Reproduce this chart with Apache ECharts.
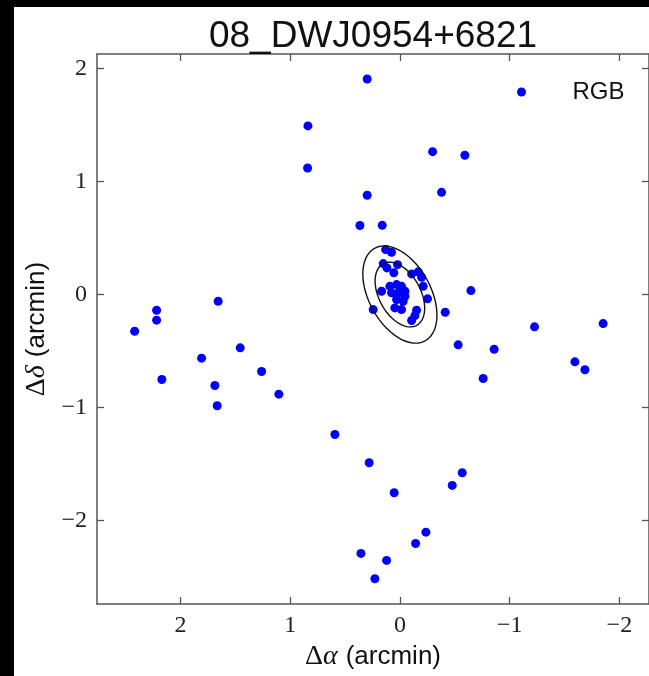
<!DOCTYPE html>
<html>
<head>
<meta charset="utf-8">
<script src="https://cdn.jsdelivr.net/npm/echarts@6/dist/echarts.min.js"></script>
<style>
html,body{margin:0;padding:0;background:#fff;}
#chart{width:649px;height:676px;}
</style>
</head>
<body>
<div id="chart"></div>
<script>
// ---- data (arcmin) ----
const titleText = '08_DWJ0954+6821';
const seriesName = 'RGB';
const rgbX = [0.298, 0.838, -0.298, -0.592, 0.841, -0.380, 0.298, 0.364, 0.161,
  1.656, 2.217, 2.217, 2.417, 1.455, 1.807, 1.260, 2.169, 1.686, 1.103, 1.665,
  0.592, 0.280, 0.052, -0.568, -0.477, -0.237, -0.143, 0.355, 0.121, 0.228,
  -0.647, -0.413, -1.227, -1.852, -0.531, -0.859, -1.595, -1.686, -0.759,
  0.130, 0.076, 0.152, 0.118, 0.021, 0.055, -0.107, -0.167, -0.198, -0.212, -0.252,
  0.167, 0.091, 0.030, -0.015, 0.076, 0.015, -0.046, 0.030, -0.030, -0.046,
  0.046, -0.015, -0.152, -0.137, -0.107, 0.243];
const rgbY = [1.909, 1.493, 1.265, 1.233, 1.121, 0.905, 0.879, 0.611, 0.613,
  -0.059, -0.139, -0.227, -0.325, -0.472, -0.563, -0.681, -0.752, -0.805, -0.882, -0.985,
  -1.239, -1.489, -1.755, -1.578, -1.690, -2.104, -2.204, -2.292, -2.354, -2.516,
  0.035, -0.157, -0.286, -0.257, -0.445, -0.484, -0.596, -0.666, -0.743,
  0.398, 0.374, 0.274, 0.236, 0.265, 0.192, 0.183, 0.201, 0.153, 0.073, -0.038,
  0.029, 0.073, 0.088, 0.073, 0.015, 0.015, 0.029, -0.044, -0.059, -0.015,
  -0.118, -0.133, -0.139, -0.186, -0.230, -0.133];
const xTicks = [-2, -1, 0, 1, 2];
const yTicks = [-2, -1, 0, 1, 2];
const xRange = [-2.27, 2.76];
const yRange = [-2.74, 2.13];
// ellipse overlays: [semi-major, semi-minor] (arcmin), tilt of major axis from north (deg)
const ellipseCenter = [0, 0];
const ellipseSemiMajor = [0.313, 0.47];
const ellipseSemiMinor = [0.188, 0.28];
const ellipseTiltDeg = 30;

// ---- build ----
const points = rgbX.map((x, i) => [x, rgbY[i]]);
function ellipsePath(a, b, deg) {
  const th = deg * Math.PI / 180, pts = [];
  const ux = Math.sin(th), uy = Math.cos(th), vx = Math.cos(th), vy = -Math.sin(th);
  for (let k = 0; k <= 180; k++) {
    const t = k / 180 * 2 * Math.PI;
    pts.push([ellipseCenter[0] + a * Math.cos(t) * ux + b * Math.sin(t) * vx,
              ellipseCenter[1] + a * Math.cos(t) * uy + b * Math.sin(t) * vy]);
  }
  return pts;
}
const fmt = v => (v < 0 ? '\u2212' + Math.abs(v) : String(v));
const axisColor = '#555';
const serif = 'Liberation Serif';
const sans = 'Liberation Sans';
const nameRich = {
  g: {fontFamily: serif, fontSize: 28, color: '#111'},
  gi: {fontFamily: serif, fontSize: 28, fontStyle: 'italic', color: '#111', padding: [0, 8, 0, 0]},
  s: {fontFamily: sans, fontSize: 26, color: '#111'}
};
function baseX(pos, show) {
  return {
    type: 'value', position: pos, inverse: true, min: xRange[0], max: xRange[1],
    axisLine: {show: true, onZero: false, lineStyle: {color: axisColor, width: 1.5}},
    axisTick: {show: true, inside: true, length: 7, customValues: xTicks, lineStyle: {color: axisColor, width: 1.3}},
    axisLabel: {show: show, customValues: xTicks, formatter: fmt, fontFamily: serif, fontSize: 24, color: '#222', margin: 10},
    splitLine: {show: false}
  };
}
function baseY(pos, show) {
  return {
    type: 'value', position: pos, min: yRange[0], max: yRange[1],
    axisLine: {show: true, onZero: false, lineStyle: {color: axisColor, width: 1.5}},
    axisTick: {show: true, inside: true, length: 7, customValues: yTicks, lineStyle: {color: axisColor, width: 1.3}},
    axisLabel: {show: show, customValues: yTicks, formatter: fmt, fontFamily: serif, fontSize: 24, color: '#222', margin: 10},
    splitLine: {show: false}
  };
}
const xb = baseX('bottom', true);
xb.name = '{g|\u0394}{gi|\u03b1}{s|(arcmin)}';
xb.nameLocation = 'middle';
xb.nameGap = 39;
xb.nameTextStyle = {rich: nameRich};
const yl = baseY('left', true);
yl.name = '{g|\u0394}{gi|\u03b4}{s|(arcmin)}';
yl.nameLocation = 'middle';
yl.nameGap = 45;
yl.nameTextStyle = {rich: nameRich};

const chart = echarts.init(document.getElementById('chart'), null, {renderer: 'canvas'});
chart.setOption({
  backgroundColor: '#fff',
  animation: false,
  title: {
    text: titleText, left: 368, top: 13, textAlign: 'center',
    textStyle: {fontFamily: sans, fontSize: 37, fontWeight: 'normal', color: '#111'}
  },
  legend: {
    data: [{name: seriesName, icon: 'circle'}],
    left: 512, top: 75, itemWidth: 92, itemHeight: 9,
    textStyle: {fontFamily: sans, fontSize: 24, color: '#111'}
  },
  grid: {left: 97, top: 54, width: 552, height: 551, containLabel: false},
  xAxis: [xb, baseX('top', false)],
  yAxis: [yl, baseY('right', false)],
  graphic: [
    {type: 'rect', left: 0, top: 0, shape: {width: 14, height: 676}, style: {fill: '#000'}, z: 100},
    {type: 'rect', left: 0, top: 0, shape: {width: 649, height: 7}, style: {fill: '#000'}, z: 100}
  ],
  series: [
    {name: seriesName, type: 'scatter', data: points, symbol: 'circle', symbolSize: 9,
     itemStyle: {color: '#0000ff', opacity: 1}, z: 2},
    {name: 'ell1', type: 'line', data: ellipsePath(ellipseSemiMajor[0], ellipseSemiMinor[0], ellipseTiltDeg),
     showSymbol: false, silent: true, lineStyle: {color: '#111', width: 1.4}, z: 3},
    {name: 'ell2', type: 'line', data: ellipsePath(ellipseSemiMajor[1], ellipseSemiMinor[1], ellipseTiltDeg),
     showSymbol: false, silent: true, lineStyle: {color: '#111', width: 1.4}, z: 3}
  ]
});
</script>
</body>
</html>
